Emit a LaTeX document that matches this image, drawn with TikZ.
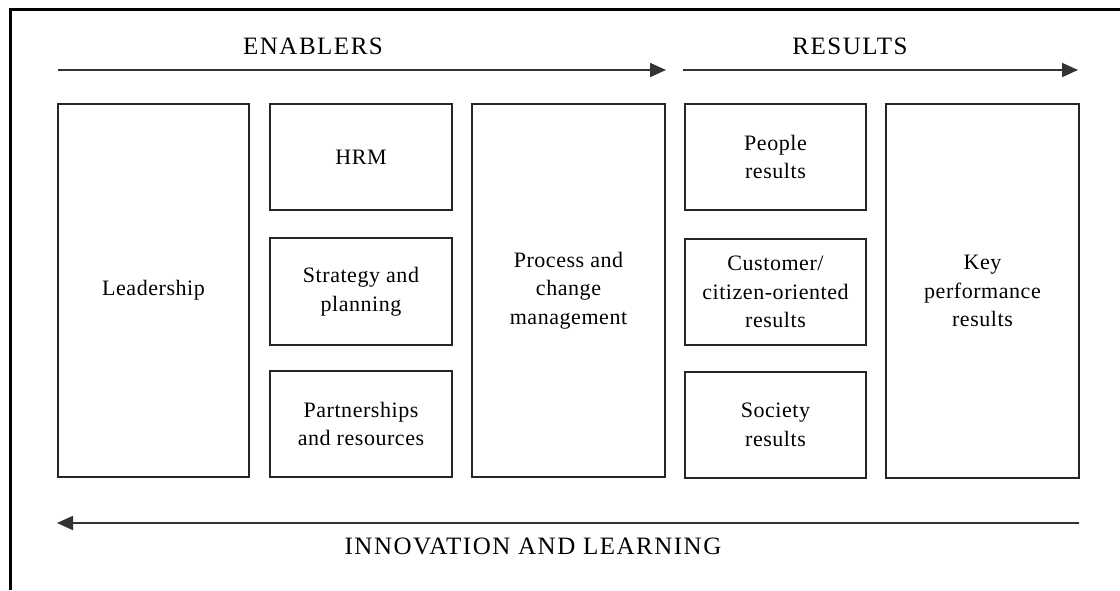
\documentclass[tikz,border=0pt]{standalone}
\usepackage{fontspec}
\setmainfont{Liberation Serif}
\newfontfamily\boxfont[LetterSpace=2.5]{Liberation Serif}
\newfontfamily\headfont[LetterSpace=6]{Liberation Serif}
\usetikzlibrary{arrows.meta}
\begin{document}
\begin{tikzpicture}[x=1pt,y=-1pt,
  box/.style={draw=black!85, line width=1.7pt, inner sep=2pt, align=center,
    font=\boxfont\fontsize{22}{28.5}\selectfont},
  head/.style={font=\headfont\fontsize{25}{30}\selectfont, inner sep=0pt},
  flow/.style={draw=black!80, line width=1.8pt, -{Triangle[length=16pt,width=14pt]}}]
\useasboundingbox (0,0) rectangle (1120,590);
\fill[white] (0,0) rectangle (1120,590);
% outer frame (cut at right and bottom)
\draw[line width=3pt] (1120,9.5) -- (10.5,9.5) -- (10.5,590);
% boxes
\node[box, minimum width=191pt, minimum height=373pt] (lead) at (153.5,290.5) {Leadership};
\node[box, minimum width=182pt, minimum height=106pt] (hrm) at (361,157) {HRM};
\node[box, minimum width=182pt, minimum height=107pt] (strat) at (361,291.5) {Strategy and\\planning};
\node[box, minimum width=182pt, minimum height=106pt] (part) at (361,424) {Partnerships\\and resources};
\node[box, minimum width=193pt, minimum height=373pt] (proc) at (568.5,290.5) {Process and\\change\\management};
\node[box, minimum width=181pt, minimum height=106pt] (people) at (775.5,157) {People\\results};
\node[box, minimum width=181pt, minimum height=106pt] (cust) at (775.5,292) {Customer/\\citizen-oriented\\results};
\node[box, minimum width=181pt, minimum height=106pt] (soc) at (775.5,425) {Society\\results};
\node[box, minimum width=193pt, minimum height=374pt] (key) at (982.5,291) {Key\\performance\\results};
% headings
\node[head] (enab) at (313,46) {ENABLERS};
\node[head] (res) at (850,46) {RESULTS};
\node[head] (innov) at (533,546) {INNOVATION AND LEARNING};
% arrows
\coordinate (e1) at (58,70);
\coordinate (e2) at (666,70);
\coordinate (r1) at (683,70);
\coordinate (r2) at (1078,70);
\coordinate (i1) at (1079,523);
\coordinate (i2) at (57,523);
\draw[flow] (e1) -- (e2);
\draw[flow] (r1) -- (r2);
\draw[flow] (i1) -- (i2);
\end{tikzpicture}
\end{document}
